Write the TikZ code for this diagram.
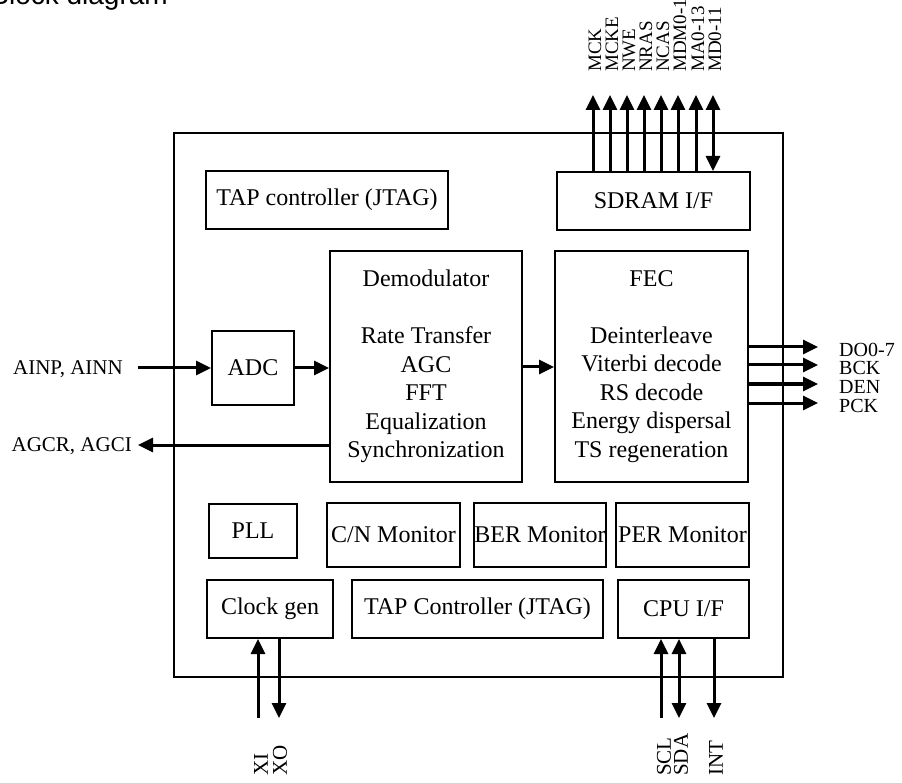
\documentclass[tikz,border=0pt]{standalone}
\usepackage{fontspec}
\setmainfont{Liberation Serif}
\newfontfamily\titlefont{Liberation Sans}
\usetikzlibrary{arrows.meta}
\begin{document}
\begin{tikzpicture}[x=1pt,y=-1pt,
  blk/.style={draw, line width=2pt, inner sep=0pt, font=\fontsize{24}{28.5}\selectfont, align=center},
  sig/.style={line width=3pt, -{Triangle[length=15pt,width=14pt]}},
  sigb/.style={line width=3pt, {Triangle[length=15pt,width=14pt]}-{Triangle[length=15pt,width=14pt]}},
  lbl/.style={inner sep=0pt, font=\fontsize{21}{19}\selectfont},
  rlbl/.style={inner sep=0pt, anchor=west, font=\fontsize{20}{18}\selectfont},
  vlbl/.style={lbl, rotate=90, anchor=west},
  tlbl/.style={vlbl, font=\fontsize{19}{18}\selectfont}]
\useasboundingbox (0,0) rectangle (902,783);
\node[font=\titlefont\fontsize{28}{30}\selectfont, anchor=base east, inner sep=0pt] (title) at (168,5) {Block diagram};
% chip outline
\node[draw, line width=1.3pt, minimum width=609pt, minimum height=544pt, inner sep=0pt] (chip) at (478.5,405) {};
% blocks
\node[blk, minimum width=242pt, minimum height=58pt] (tap1) at (327,200) {TAP controller (JTAG)};
\node[blk, minimum width=193pt, minimum height=58pt] (sdram) at (653.5,201) {SDRAM I/F};
\node[blk, minimum width=82pt, minimum height=74pt] (adc) at (253,368) {ADC};
\node[blk, minimum width=192pt, minimum height=231pt] (demod) at (426,366.5) {Demodulator\\\mbox{}\\Rate Transfer\\AGC\\FFT\\Equalization\\Synchronization};
\node[blk, minimum width=193pt, minimum height=231pt] (fec) at (651.5,366.5) {FEC\\\mbox{}\\Deinterleave\\Viterbi decode\\RS decode\\Energy dispersal\\TS regeneration};
\node[blk, minimum width=88pt, minimum height=54pt] (pll) at (253,531) {PLL};
\node[blk, minimum width=133pt, minimum height=64pt] (cn) at (393.5,535) {C/N Monitor};
\node[blk, minimum width=132pt, minimum height=64pt] (ber) at (540,535) {BER Monitor};
\node[blk, minimum width=133pt, minimum height=64pt] (per) at (682.5,535) {PER Monitor};
\node[blk, minimum width=126pt, minimum height=58pt] (clk) at (270,609) {Clock gen};
\node[blk, minimum width=251pt, minimum height=58pt] (tap2) at (477.5,609) {TAP Controller (JTAG)};
\node[blk, minimum width=131pt, minimum height=58pt] (cpu) at (683.5,609) {CPU I/F};
% internal flow
\draw[sig] (adc.east) -- (demod.west |- adc.east);
\draw[sig] (demod.east |- 0,367) -- (fec.west |- 0,367);
% analog in/out
\coordinate (ain) at (138,368);
\draw[sig] (ain) -- (adc.west |- ain);
\node[lbl, anchor=east] (lain) at (123,369) {AINP, AINN};
\coordinate (agc) at (138,445);
\draw[sig] (demod.west |- agc) -- (agc);
\node[lbl, anchor=east] (lagc) at (132,446) {AGCR, AGCI};
% FEC outputs
\foreach \y/\n/\t in {347/a/DO0-7,365/b/BCK,384/c/DEN,403/d/PCK}{
  \coordinate (o\n) at (818,\y);
  \draw[sig] (fec.east |- o\n) -- (o\n);
  \node[rlbl] (l\n) at (839,\y+3) {\t};
}
% SDRAM bus
\foreach \x/\n/\t in {593/a/MCK,610/b/MCKE,627/c/NWE,644/d/NRAS,661/e/NCAS,678/f/MDM0-1,696/g/MA0-13}{
  \coordinate (s\n) at (\x,95);
  \draw[sig] (sdram.north -| s\n) -- (s\n);
  \node[tlbl] (ls\n) at (\x+2,72) {\t};
}
\coordinate (sh) at (713,95);
\draw[sigb] (sdram.north -| sh) -- (sh);
\node[tlbl] (lsh) at (715,72) {MD0-11};
% clock pins
\coordinate (xi) at (258,718);
\draw[sig] (xi) -- (xi |- clk.south);
\node[vlbl] (lxi) at (261,776) {XI};
\coordinate (xo) at (279,718);
\draw[sig] (xo |- clk.south) -- (xo);
\node[vlbl] (lxo) at (280,776) {XO};
% CPU pins
\coordinate (scl) at (661,718);
\draw[sig] (scl) -- (scl |- cpu.south);
\node[vlbl] (lscl) at (664,776) {SCL};
\coordinate (sda) at (679,718);
\draw[sigb] (sda |- cpu.south) -- (sda);
\node[vlbl] (lsda) at (681,776) {SDA};
\coordinate (int) at (714,718);
\draw[sig] (int |- cpu.south) -- (int);
\node[vlbl] (lint) at (716,776) {INT};
\end{tikzpicture}
\end{document}
